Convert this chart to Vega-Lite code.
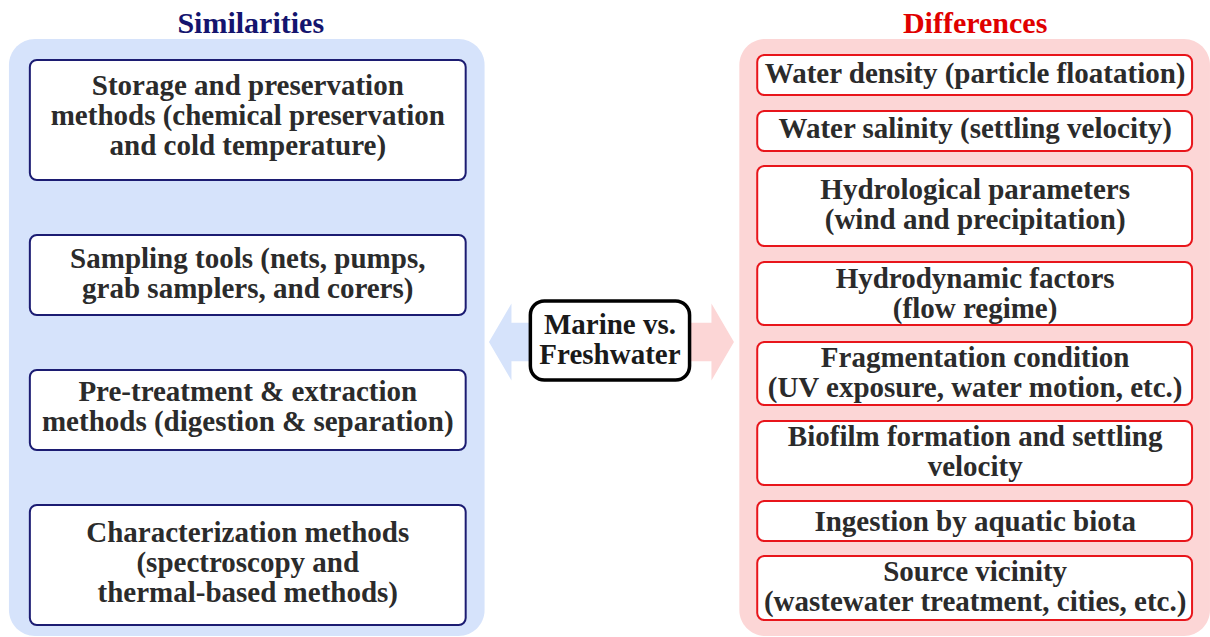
{
  "$schema": "https://vega.github.io/schema/vega-lite/v6.json",
  "autosize": {"type": "fit", "contains": "padding"},
  "width": 1210,
  "height": 637,
  "padding": 0,
  "background": "white",
  "config": {"view": {"stroke": null}},
  "datasets": {
    "panels": [
      {"side": "sim", "x1": 9, "x2": 487, "y1": 39, "y2": 636},
      {"side": "diff", "x1": 743, "x2": 1216, "y1": 39, "y2": 636}
    ],
    "titles": [
      {"side": "sim", "label": "Similarities", "cx": 252, "cy": 33},
      {"side": "diff", "label": "Differences", "cx": 980, "cy": 33}
    ],
    "boxes": [
      {"side": "sim", "x1": 30, "x2": 468, "y1": 60, "y2": 180, "cx": 249, "cy": 86, "label": "Storage and preservation\nmethods (chemical preservation\nand cold temperature)"},
      {"side": "sim", "x1": 30, "x2": 468, "y1": 235, "y2": 315, "cx": 249, "cy": 259, "label": "Sampling tools (nets, pumps,\ngrab samplers, and corers)"},
      {"side": "sim", "x1": 30, "x2": 468, "y1": 370, "y2": 450, "cx": 249, "cy": 392, "label": "Pre-treatment & extraction\nmethods (digestion & separation)"},
      {"side": "sim", "x1": 30, "x2": 468, "y1": 505, "y2": 625, "cx": 249, "cy": 533, "label": "Characterization methods\n(spectroscopy and\nthermal-based methods)"},
      {"side": "diff", "x1": 761, "x2": 1198, "y1": 55, "y2": 95, "cx": 980, "cy": 74, "label": "Water density (particle floatation)"},
      {"side": "diff", "x1": 761, "x2": 1198, "y1": 111, "y2": 151, "cx": 980, "cy": 129, "label": "Water salinity (settling velocity)"},
      {"side": "diff", "x1": 761, "x2": 1198, "y1": 166, "y2": 246, "cx": 980, "cy": 190, "label": "Hydrological parameters\n(wind and precipitation)"},
      {"side": "diff", "x1": 761, "x2": 1198, "y1": 262, "y2": 325, "cx": 980, "cy": 279, "label": "Hydrodynamic factors\n(flow regime)"},
      {"side": "diff", "x1": 761, "x2": 1198, "y1": 342, "y2": 405, "cx": 980, "cy": 358, "label": "Fragmentation condition\n(UV exposure, water motion, etc.)"},
      {"side": "diff", "x1": 761, "x2": 1198, "y1": 421, "y2": 485, "cx": 980, "cy": 437, "label": "Biofilm formation and settling\nvelocity"},
      {"side": "diff", "x1": 761, "x2": 1198, "y1": 501, "y2": 541, "cx": 980, "cy": 522, "label": "Ingestion by aquatic biota"},
      {"side": "diff", "x1": 761, "x2": 1198, "y1": 556, "y2": 620, "cx": 980, "cy": 572, "label": "Source vicinity\n(wastewater treatment, cities, etc.)"}
    ],
    "arrows": [
      {"side": "sim", "cx": 514, "cy": 342},
      {"side": "diff", "cx": 715, "cy": 342}
    ],
    "center": [
      {"x1": 533, "x2": 693, "y1": 301, "y2": 380, "cx": 613, "cy": 325, "label": "Marine vs.\nFreshwater"}
    ]
  },
  "layer": [
    {
      "data": {"name": "panels"},
      "mark": {"type": "rect", "cornerRadius": 26},
      "encoding": {
        "x": {"field": "x1", "type": "quantitative", "scale": {"domain": [0, 1210], "nice": false, "zero": false}, "axis": null},
        "x2": {"field": "x2"},
        "y": {"field": "y1", "type": "quantitative", "scale": {"domain": [0, 637], "nice": false, "zero": false, "reverse": true}, "axis": null},
        "y2": {"field": "y2"},
        "fill": {"field": "side", "type": "nominal", "scale": {"domain": ["sim", "diff"], "range": ["#d6e3fb", "#fcd6d6"]}, "legend": null}
      }
    },
    {
      "data": {"name": "arrows"},
      "mark": {"type": "point", "filled": true, "opacity": 1, "size": 5929, "strokeWidth": 0},
      "encoding": {
        "x": {"field": "cx", "type": "quantitative"},
        "y": {"field": "cy", "type": "quantitative"},
        "shape": {"field": "side", "type": "nominal", "scale": {"domain": ["sim", "diff"], "range": ["M-0.584,0L0,-1L0,-0.5L0.584,-0.5L0.584,0.5L0,0.5L0,1Z", "M0.584,0L0,-1L0,-0.5L-0.584,-0.5L-0.584,0.5L0,0.5L0,1Z"]}, "legend": null},
        "fill": {"field": "side", "type": "nominal", "scale": {"domain": ["sim", "diff"], "range": ["#d2dffa", "#fbd2d2"]}, "legend": null}
      }
    },
    {
      "data": {"name": "boxes"},
      "mark": {"type": "rect", "cornerRadius": 7, "fill": "white", "strokeWidth": 2},
      "encoding": {
        "x": {"field": "x1", "type": "quantitative"},
        "x2": {"field": "x2"},
        "y": {"field": "y1", "type": "quantitative"},
        "y2": {"field": "y2"},
        "stroke": {"field": "side", "type": "nominal", "scale": {"domain": ["sim", "diff"], "range": ["#1c1c72", "#e8151b"]}, "legend": null}
      }
    },
    {
      "data": {"name": "center"},
      "mark": {"type": "rect", "cornerRadius": 14, "fill": "white", "stroke": "#000000", "strokeWidth": 3.5},
      "encoding": {
        "x": {"field": "x1", "type": "quantitative"},
        "x2": {"field": "x2"},
        "y": {"field": "y1", "type": "quantitative"},
        "y2": {"field": "y2"}
      }
    },
    {
      "data": {"name": "boxes"},
      "mark": {"type": "text", "font": "Liberation Serif", "fontWeight": "bold", "fontSize": 29, "lineHeight": 30, "lineBreak": "\n", "align": "center", "baseline": "middle", "color": "#2b2b2b"},
      "encoding": {
        "x": {"field": "cx", "type": "quantitative"},
        "y": {"field": "cy", "type": "quantitative"},
        "text": {"field": "label"}
      }
    },
    {
      "data": {"name": "center"},
      "mark": {"type": "text", "font": "Liberation Serif", "fontWeight": "bold", "fontSize": 29, "lineHeight": 30, "lineBreak": "\n", "align": "center", "baseline": "middle", "color": "#1a1a1a"},
      "encoding": {
        "x": {"field": "cx", "type": "quantitative"},
        "y": {"field": "cy", "type": "quantitative"},
        "text": {"field": "label"}
      }
    },
    {
      "data": {"name": "titles"},
      "mark": {"type": "text", "font": "Liberation Serif", "fontWeight": "bold", "fontSize": 30, "align": "center", "baseline": "alphabetic"},
      "encoding": {
        "x": {"field": "cx", "type": "quantitative"},
        "y": {"field": "cy", "type": "quantitative"},
        "text": {"field": "label"},
        "color": {"field": "side", "type": "nominal", "scale": {"domain": ["sim", "diff"], "range": ["#14146e", "#e00000"]}, "legend": null}
      }
    }
  ]
}
